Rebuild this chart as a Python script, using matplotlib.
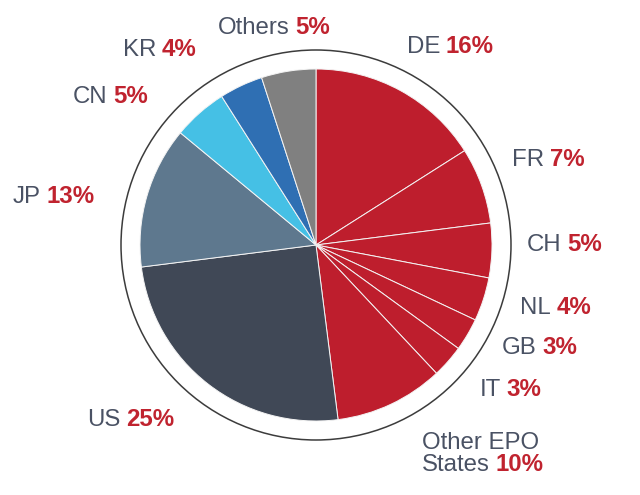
import matplotlib.pyplot as plt
from matplotlib.patches import Circle

# shares in percent, clockwise from 12 o'clock
countries = ['DE', 'FR', 'CH', 'NL', 'GB', 'IT', 'Other EPO\nStates',
             'US', 'JP', 'CN', 'KR', 'Others']
shares = [16, 7, 5, 4, 3, 3, 10, 25, 13, 5, 4, 5]
colors = ['#BE1E2D'] * 7 + ['#404856', '#5E788E', '#45C0E5', '#2F6FB3', '#808080']

# label anchor: left x, vertical centre y (pixels from top-left)
label_pos = [(407, 47), (512, 160), (527, 245), (520, 308), (502, 348),
             (480, 390), (422, 465), (87, 420), (13, 197), (73, 97),
             (123, 50), (218, 28)]

W, H = 640, 495
cx, cy = 316, 245
r_pie = 176
r_ring = 195

plt.rcParams['font.family'] = ['Liberation Sans', 'DejaVu Sans']

fig = plt.figure(figsize=(W / 100, H / 100), dpi=100)
ax = fig.add_axes([0, 0, 1, 1])

ax.pie(shares, colors=colors, startangle=90, counterclock=False,
       center=(cx, H - cy), radius=r_pie,
       wedgeprops=dict(edgecolor='#f4f4f4', linewidth=0.7))
ax.add_patch(Circle((cx, H - cy), r_ring, fill=False, ec='#3c3c3c', lw=1.1))

ax.set_xlim(0, W)
ax.set_ylim(0, H)
ax.set_aspect('equal')
ax.axis('off')

name_color = '#4A5264'
pct_color = '#C0232F'
fs = 17.3
for name, val, (x, y) in zip(countries, shares, label_pos):
    lines = name.split('\n')
    for i, extra in enumerate(lines[:-1][::-1]):
        ax.text(x, H - y + 22 * (i + 1), extra, color=name_color, fontsize=fs,
                ha='left', va='center')
    t = ax.text(x, H - y, lines[-1], color=name_color, fontsize=fs,
                ha='left', va='center')
    ax.annotate('%d%%' % val, xy=(1, 0), xycoords=t, xytext=(4, 0),
                textcoords='offset points', color=pct_color, fontsize=fs,
                fontweight='bold', ha='left', va='bottom')

fig.savefig('out.png', dpi=100)
